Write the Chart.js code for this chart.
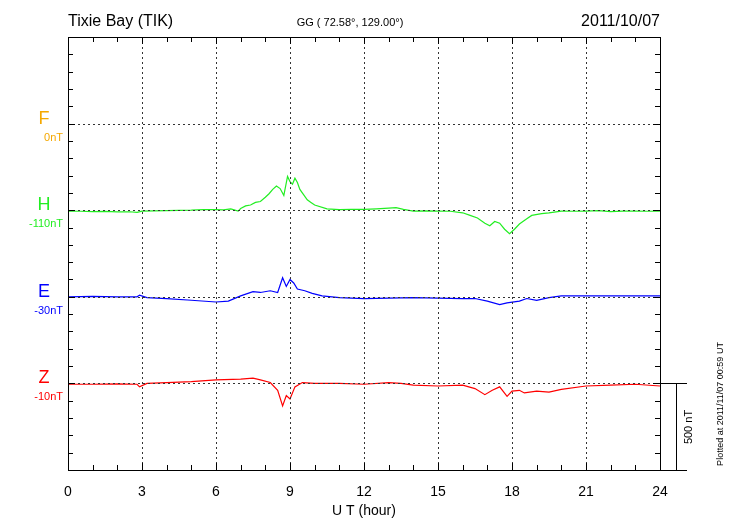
<!DOCTYPE html>
<html><head><meta charset="utf-8">
<script src="https://cdn.jsdelivr.net/npm/chart.js@4/dist/chart.umd.min.js"></script>
<style>body{margin:0;background:#fff}#wrap{width:730px;height:520px}</style>
</head><body><div id="wrap"><canvas id="c"></canvas></div>
<script>
// baselines (nT on the plot axis) for each component
const baseF = 2000, baseH = 1500, baseE = 1000, baseZ = 500;
const xTicks = [0, 3, 6, 9, 12, 15, 18, 21, 24];

// H: hour / deviation (nT)
const hT = [0,0.5,1,1.5,2,2.5,2.8,3,3.5,4,4.5,5,5.5,6,6.3,6.6,6.9,7.0,7.2,7.4,7.6,7.8,8.0,8.15,8.3,8.45,8.6,8.75,8.9,9.0,9.1,9.2,9.3,9.4,9.55,9.7,9.85,10,10.5,11,11.5,12,12.5,13,13.3,13.6,14,14.5,15,15.5,16,16.3,16.6,16.9,17.1,17.3,17.5,17.7,17.9,18.1,18.3,18.6,18.8,19.2,19.5,20,20.5,21,21.5,22,22.5,23,23.5,24];
const hV = [-5,-6,-8,-7,-10,-9,-12,-5,-4,-3,-1,0,3,3,2,8,-5,10,25,30,45,50,75,95,120,140,125,85,195,165,150,185,160,120,90,60,45,30,8,3,5,5,8,12,15,5,-5,-4,-5,-6,-15,-30,-45,-75,-90,-65,-75,-110,-135,-110,-80,-50,-30,-20,-15,-5,-6,-5,-3,-8,-5,-5,-6,-5];
// E
const eT = [0,1,2,2.8,2.9,3.2,4,5,6,6.5,7,7.5,7.8,8.2,8.5,8.7,8.85,9.0,9.15,9.3,9.6,9.9,10.3,11,12,13,14,16,16.5,17,17.5,17.8,18.3,18.6,19,19.5,20,21,24];
const eV = [0,2,0,0,10,-5,-10,-20,-30,-25,5,30,25,35,25,110,60,100,80,45,35,20,5,-5,-10,-8,-5,-10,-10,-25,-45,-35,-25,-10,-20,-5,5,5,5];
// Z
const zT = [0,1,2,2.8,2.9,3.2,4,5,6,7,7.5,7.8,8.2,8.5,8.7,8.85,9.0,9.2,9.5,10,11,12,13,13.5,14,15,16,16.5,16.9,17.2,17.5,17.8,18.0,18.3,18.5,19,19.5,20,21,22,23,24];
const zV = [-5,-5,-3,-5,-20,0,5,10,20,25,30,20,5,-40,-130,-70,-90,-20,5,0,0,-5,5,0,-10,-15,-10,-30,-65,-40,-20,-75,-45,-40,-55,-45,-50,-35,-15,-10,-5,-15];

const pts = (t, v, b) => t.map((x, i) => ({x, y: b + v[i]}));
const FONT = "'Liberation Sans', Arial, sans-serif";

const decor = {
  id: 'decor',
  afterDraw(chart) {
    const {ctx, chartArea: a, scales: {x, y}} = chart;
    ctx.save();
    ctx.lineWidth = 1;
    // dotted grid
    ctx.setLineDash([2, 3]);
    ctx.strokeStyle = '#333';
    for (const t of xTicks.slice(1, -1)) {
      const px = Math.round(x.getPixelForValue(t)) + 0.5;
      ctx.beginPath(); ctx.moveTo(px, a.top); ctx.lineTo(px, a.bottom); ctx.stroke();
    }
    for (const v of [baseZ, baseE, baseH, baseF]) {
      const py = Math.round(y.getPixelForValue(v)) + 0.5;
      ctx.beginPath(); ctx.moveTo(a.left, py); ctx.lineTo(a.right, py); ctx.stroke();
    }
    ctx.setLineDash([]);
    ctx.strokeStyle = '#000';
    // frame
    ctx.strokeRect(a.left + 0.5, a.top + 0.5, a.right - a.left, a.bottom - a.top);
    // ticks
    ctx.beginPath();
    for (let v = 100; v < 2500; v += 100) {
      const py = Math.round(y.getPixelForValue(v)) + 0.5;
      const len = v % 500 === 0 ? 7 : 5;
      ctx.moveTo(a.left, py); ctx.lineTo(a.left + len, py);
      ctx.moveTo(a.right, py); ctx.lineTo(a.right - len, py);
    }
    for (let h = 1; h < 24; h++) {
      const px = Math.round(x.getPixelForValue(h)) + 0.5;
      const len = h % 3 === 0 ? 7 : 5;
      ctx.moveTo(px, a.top); ctx.lineTo(px, a.top + len);
      ctx.moveTo(px, a.bottom); ctx.lineTo(px, a.bottom - len);
    }
    // scale bar
    const z0 = Math.round(y.getPixelForValue(baseZ)) + 0.5;
    const zb = Math.round(a.bottom) + 0.5;
    ctx.moveTo(a.right, z0); ctx.lineTo(a.right + 27, z0);
    ctx.moveTo(a.right, zb); ctx.lineTo(a.right + 27, zb);
    ctx.moveTo(a.right + 16.5, z0); ctx.lineTo(a.right + 16.5, zb);
    ctx.stroke();
    // titles
    ctx.fillStyle = '#000';
    ctx.textBaseline = 'alphabetic';
    ctx.font = '16px ' + FONT;
    ctx.textAlign = 'left'; ctx.fillText('Tixie Bay (TIK)', 68, 26);
    ctx.textAlign = 'right'; ctx.fillText('2011/10/07', 660, 26);
    ctx.font = '11px ' + FONT;
    ctx.textAlign = 'center'; ctx.fillText('GG ( 72.58°, 129.00°)', 350, 26);
    // component labels
    const labs = [['F', '0nT', baseF, '#f5a800'], ['H', '-110nT', baseH, '#22ee22'],
                  ['E', '-30nT', baseE, '#0000ff'], ['Z', '-10nT', baseZ, '#ff0000']];
    for (const [n, off, b, col] of labs) {
      const py = y.getPixelForValue(b);
      ctx.fillStyle = col;
      ctx.font = '18px ' + FONT; ctx.textAlign = 'center';
      ctx.fillText(n, 44, py);
      ctx.font = '11px ' + FONT; ctx.textAlign = 'right';
      ctx.fillText(off, 63, py + 17);
    }
    // rotated texts
    ctx.fillStyle = '#000';
    ctx.save(); ctx.translate(692, (z0 + zb) / 2); ctx.rotate(-Math.PI / 2);
    ctx.font = '11px ' + FONT; ctx.textAlign = 'center'; ctx.fillText('500 nT', 0, 0); ctx.restore();
    ctx.save(); ctx.translate(723, 404); ctx.rotate(-Math.PI / 2);
    ctx.font = '9px ' + FONT; ctx.textAlign = 'center'; ctx.fillText('Plotted at 2011/11/07 00:59 UT', 0, 0); ctx.restore();
    ctx.restore();
  }
};

new Chart(document.getElementById('c'), {
  type: 'line',
  data: {
    datasets: [
      {label: 'H', data: pts(hT, hV, baseH), borderColor: '#22ee22'},
      {label: 'E', data: pts(eT, eV, baseE), borderColor: '#0000ff'},
      {label: 'Z', data: pts(zT, zV, baseZ), borderColor: '#ff0000'}
    ]
  },
  options: {
    responsive: true, maintainAspectRatio: false, animation: false,
    devicePixelRatio: 1,
    elements: {point: {radius: 0}, line: {borderWidth: 1.2, tension: 0}},
    layout: {padding: {top: 37, right: 70, left: 0, bottom: 0}},
    plugins: {legend: {display: false}, tooltip: {enabled: false}},
    scales: {
      x: {
        type: 'linear', min: 0, max: 24,
        afterBuildTicks: s => { s.ticks = xTicks.map(v => ({value: v})); },
        afterFit: s => { s.height = 50; },
        grid: {display: false}, border: {display: false},
        ticks: {color: '#000', font: {family: FONT, size: 14}, padding: 6, maxRotation: 0},
        title: {display: true, text: 'U T (hour)', color: '#000', font: {family: FONT, size: 14}, padding: 0}
      },
      y: {
        min: 0, max: 2500,
        afterFit: s => { s.width = 68; },
        grid: {display: false}, border: {display: false},
        ticks: {display: false}
      }
    }
  },
  plugins: [decor]
});
</script></body></html>
